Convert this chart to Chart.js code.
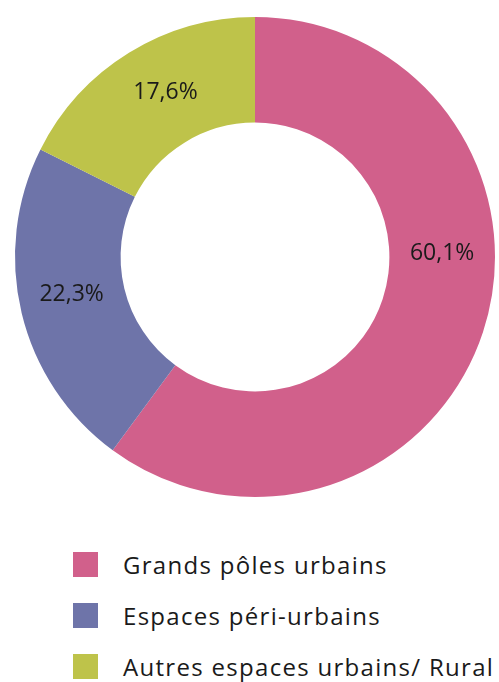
<!DOCTYPE html>
<html>
<head>
<meta charset="utf-8">
<script src="https://cdn.jsdelivr.net/npm/chart.js@4"></script>
<style>
  body { margin: 0; background: #fff; width: 499px; height: 682px; overflow: hidden; font-family: "Open Sans", sans-serif; }
  #wrap { position: absolute; left: 0; top: 0; width: 499px; height: 512px; }
  #legend { position: absolute; left: 0; top: 0; }
  .item { position: absolute; left: 73px; height: 25px; white-space: nowrap; }
  .box { position: absolute; left: 0; top: 0; width: 25px; height: 25px; }
  .txt { position: absolute; left: 50px; top: -3px; font-size: 24px; line-height: 32px; letter-spacing: 1.3px; color: #1a1a1a; }
</style>
</head>
<body>
<div id="wrap"><canvas id="donut"></canvas></div>
<div id="legend"></div>
<script>
const labels = ['Grands pôles urbains', 'Espaces péri-urbains', 'Autres espaces urbains/ Rural'];
const shares = [60.1, 22.3, 17.6];
const colors = ['#d1608b', '#6e74a9', '#bec34a'];
const labelShift = [-19.4, 1.9, 3.1]; // degrees, nudges the % labels like the original

// % labels drawn inside each ring segment
const sliceLabels = {
    id: 'sliceLabels',
    afterDatasetsDraw(chart) {
        const ctx = chart.ctx;
        const meta = chart.getDatasetMeta(0);
        ctx.save();
        ctx.font = '23px "Open Sans"';
        ctx.fillStyle = '#1a1a1a';
        ctx.textAlign = 'center';
        ctx.textBaseline = 'middle';
        meta.data.forEach((arc, i) => {
            const p = arc.getProps(['x', 'y', 'startAngle', 'endAngle', 'innerRadius', 'outerRadius']);
            const a = (p.startAngle + p.endAngle) / 2 + labelShift[i] * Math.PI / 180;
            const r = (p.innerRadius + p.outerRadius) / 2;
            ctx.fillText(shares[i].toFixed(1).replace('.', ',') + '%', p.x + r * Math.cos(a), p.y + r * Math.sin(a));
        });
        ctx.restore();
    }
};

new Chart(document.getElementById('donut'), {
    type: 'doughnut',
    data: {
        labels: labels,
        datasets: [{
            data: shares,
            backgroundColor: colors,
            borderWidth: 0
        }]
    },
    options: {
        responsive: true,
        maintainAspectRatio: false,
        animation: false,
        cutout: '56%',
        layout: { padding: { top: 17, left: 15, right: 4, bottom: 15 } },
        plugins: { legend: { display: false }, tooltip: { enabled: false } }
    },
    plugins: [sliceLabels]
});

// legend
const rowTops = [552, 603, 654];
const legend = document.getElementById('legend');
labels.forEach((l, i) => {
    const item = document.createElement('div');
    item.className = 'item';
    item.style.top = rowTops[i] + 'px';
    item.innerHTML = '<div class="box" style="background:' + colors[i] + '"></div><div class="txt">' + l + '</div>';
    legend.appendChild(item);
});
</script>
</body>
</html>
